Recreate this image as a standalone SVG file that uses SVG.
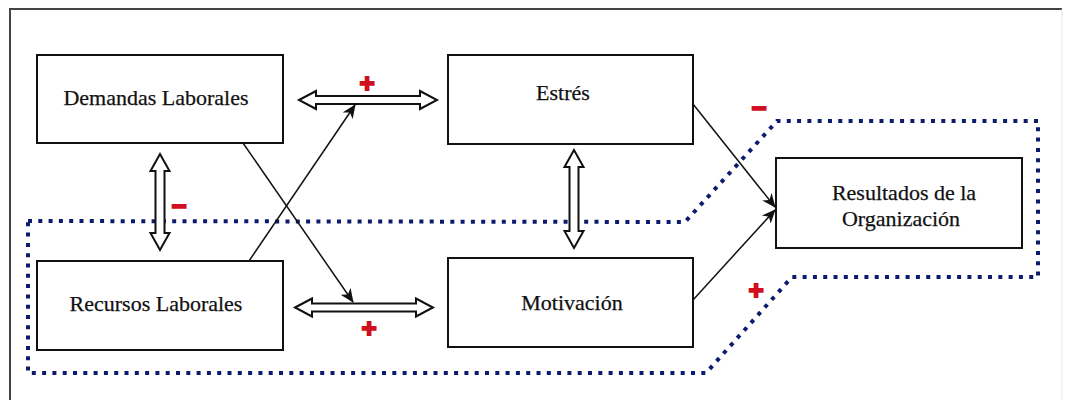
<svg xmlns="http://www.w3.org/2000/svg" width="1065" height="400" viewBox="0 0 1065 400">
  <style>
    .box { fill: #ffffff; stroke: #111111; stroke-width: 2; }
    .lbl { font-family: "Liberation Serif", "Times New Roman", serif; font-size: 22px; fill: #111111; text-anchor: middle; stroke: #111111; stroke-width: 0.25; }
    .dbl { fill: #ffffff; stroke: #111111; stroke-width: 2; stroke-linejoin: miter; }
    .thin { fill: none; stroke: #111111; stroke-width: 1.5; marker-end: url(#ah); }
    .dots { fill: none; stroke: #0d1b6e; stroke-width: 4; stroke-dasharray: 4 6.3; }
    .sign { font-family: "Liberation Sans", Arial, sans-serif; font-weight: bold; font-size: 26px; fill: #d01020; stroke: #d01020; stroke-width: 1.8; text-anchor: middle; }
  </style>
  <defs>
    <marker id="ah" markerUnits="userSpaceOnUse" markerWidth="14" markerHeight="12" refX="13" refY="6" orient="auto" viewBox="0 0 14 12">
      <path d="M0,0 L14,6 L0,12 L4,6 z" fill="#111111"/>
    </marker>
  </defs>
  <rect x="0" y="0" width="1065" height="400" fill="#ffffff"/>
  <!-- outer frame -->
  <g id="frame">
    <polyline points="10,400 10,9 1062,9" fill="none" stroke="#444444" stroke-width="2"/>
    <line x1="1062" y1="9" x2="1062" y2="400" stroke="#e6e6e6" stroke-width="1"/>
  </g>
  <!-- dotted boundary -->
  <g id="boundary">
    <path class="dots" d="M28,221 L685,222 L777,121 L1038,121 L1038,277 L792,277 L706,373 L28,373 Z"/>
  </g>
  <!-- nodes -->
  <g id="demandas">
    <rect class="box" x="37" y="55" width="246" height="88"/>
    <text class="lbl" x="156" y="105">Demandas Laborales</text>
  </g>
  <g id="estres">
    <rect class="box" x="448" y="55" width="245" height="89"/>
    <text class="lbl" x="563" y="100">Estrés</text>
  </g>
  <g id="recursos">
    <rect class="box" x="37" y="261" width="246" height="89"/>
    <text class="lbl" x="156" y="311">Recursos Laborales</text>
  </g>
  <g id="motivacion">
    <rect class="box" x="448" y="258" width="245" height="89"/>
    <text class="lbl" x="572" y="310">Motivación</text>
  </g>
  <g id="resultados">
    <rect class="box" x="776" y="158" width="246" height="90"/>
    <text class="lbl" x="904" y="200">Resultados de la</text>
    <text class="lbl" x="901" y="226">Organización</text>
  </g>
  <!-- connectors -->
  <g id="connectors">
    <path class="dbl" d="M299,100 L316,91 L316,96 L420,96 L420,91 L437,100 L420,109 L420,104 L316,104 L316,109 Z"/>
    <path class="dbl" d="M295,307.5 L312,298.5 L312,303.5 L416,303.5 L416,298.5 L433,307.5 L416,316.5 L416,311.5 L312,311.5 L312,316.5 Z"/>
    <path class="dbl" d="M160,154 L150.5,171 L155.5,171 L155.5,233 L150.5,233 L160,250 L169.5,233 L164.5,233 L164.5,171 L169.5,171 Z"/>
    <path class="dbl" d="M574,150 L564.5,167 L569.5,167 L569.5,231 L564.5,231 L574,248 L583.5,231 L578.5,231 L578.5,167 L583.5,167 Z"/>
    <line class="thin" x1="243" y1="143" x2="353" y2="302"/>
    <line class="thin" x1="249" y1="261" x2="355" y2="105"/>
    <line class="thin" x1="693" y1="104" x2="775" y2="207"/>
    <line class="thin" x1="693" y1="300" x2="775" y2="210"/>
  </g>
  <!-- signs -->
  <g id="signs">
    <text class="sign" x="367" y="92">+</text>
    <text class="sign" x="369" y="337">+</text>
    <text class="sign" x="756" y="299">+</text>
    <text class="sign" x="179" y="215">−</text>
    <text class="sign" x="759" y="117">−</text>
  </g>
</svg>
